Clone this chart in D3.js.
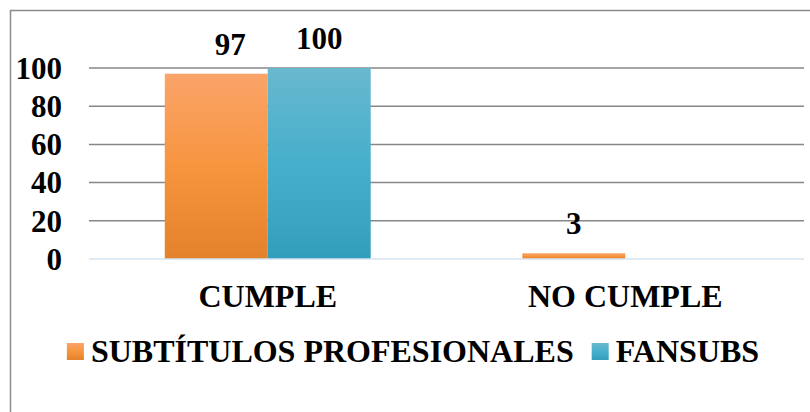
<!DOCTYPE html>
<html>
<head>
<meta charset="utf-8">
<script src="https://cdn.jsdelivr.net/npm/d3@7"></script>
<style>
  body { margin: 0; background: #fff; }
</style>
</head>
<body>
<div id="chart"></div>
<script>
// data
var categories = ["CUMPLE", "NO CUMPLE"];
var seriesNames = ["SUBTÍTULOS PROFESIONALES", "FANSUBS"];
var profesionales = [97, 3];
var fansubs = [100, 0];
var yTicks = [0, 20, 40, 60, 80, 100];

var width = 810, height = 412;

var svg = d3.select("#chart")
    .append("svg")
    .attr("width", width)
    .attr("height", height);

// gradients like the office style fill
var defs = svg.append("defs");
var grads = [
    {id: "gOrange", stops: ["#faa46a", "#f7953f", "#e4822c"]},
    {id: "gBlue", stops: ["#69b8cf", "#46afcc", "#339ebc"]}
];
grads.forEach(function(g){
    var lg = defs.append("linearGradient")
        .attr("id", g.id)
        .attr("x1", 0).attr("y1", 0)
        .attr("x2", 0).attr("y2", 1);
    g.stops.forEach(function(c, i){
        lg.append("stop").attr("offset", (i*50)+"%").attr("stop-color", c);
    });
});
var fills = ["url(#gOrange)", "url(#gBlue)"];

// outer frame
svg.append("rect")
    .attr("x", 10.5)
    .attr("y", 10.5)
    .attr("width", 820)
    .attr("height", 420)
    .attr("fill", "none")
    .attr("stroke", "#8c8c8c")
    .attr("stroke-width", 1.5);

var x0 = d3.scaleBand()
    .domain(categories)
    .range([89, 804])
    .paddingInner(0.424)
    .paddingOuter(0.212);

var x1 = d3.scaleBand()
    .domain(seriesNames)
    .range([0, x0.bandwidth()]);

var y = d3.scaleLinear()
    .domain([0, 100])
    .range([259, 68]);

// every text: bold Times-like face
function serif(sel, size){
    sel.style("font-family", "'Liberation Serif'")
        .style("font-weight", "bold")
        .style("font-size", size + "px")
        .attr("fill", "#000");
}

// gridlines
svg.append("g")
    .selectAll("line")
    .data(yTicks.filter(function(d){ return d > 0; }))
    .enter().append("line")
    .attr("x1", 89)
    .attr("x2", 804)
    .attr("y1", function(d){ return y(d); })
    .attr("y2", function(d){ return y(d); })
    .attr("stroke", "#878787")
    .attr("stroke-width", 1.5);

// y tick labels
svg.append("g")
    .selectAll("text")
    .data(yTicks)
    .enter().append("text")
    .attr("x", 62)
    .attr("y", function(d){ return y(d); })
    .attr("dy", "0.35em")
    .attr("text-anchor", "end")
    .call(serif, 31)
    .text(function(d){ return d; });

// bars
var rows = categories.map(function(c, i){
    return {cat: c, values: [profesionales[i], fansubs[i]]};
});

var groups = svg.append("g")
    .selectAll("g")
    .data(rows)
    .enter().append("g")
    .attr("transform", function(d){ return "translate(" + x0(d.cat) + ",0)"; });

groups.selectAll("rect")
    .data(function(d){ return d.values.map(function(v, j){ return {s: seriesNames[j], v: v, j: j}; }); })
    .enter().append("rect")
    .attr("x", function(d){ return x1(d.s); })
    .attr("width", x1.bandwidth())
    .attr("y", function(d){ return y(d.v); })
    .attr("height", function(d){ return y(0) - y(d.v); })
    .attr("fill", function(d){ return fills[d.j]; });

// value labels (zero values have none)
groups.selectAll("text")
    .data(function(d, i){
        return d.values.map(function(v, j){ return {s: seriesNames[j], v: v, j: j, c: i}; })
            .filter(function(e){ return e.v > 0; });
    })
    .enter().append("text")
    .attr("x", function(d){
        // the 97 label sits a bit to the right in the original
        var shift = (d.c == 0 && d.j == 0) ? 14 : 0;
        return x1(d.s) + x1.bandwidth()/2 + shift;
    })
    .attr("y", function(d){ return y(d.v) - 19; })
    .attr("text-anchor", "middle")
    .call(serif, 31)
    .text(function(d){ return d.v; });

// baseline
svg.append("line")
    .attr("x1", 89)
    .attr("x2", 804)
    .attr("y1", y(0))
    .attr("y2", y(0))
    .attr("stroke", "#d6e3ef")
    .attr("stroke-width", 1.5);

// category labels
svg.append("g")
    .selectAll("text")
    .data(categories)
    .enter().append("text")
    .attr("x", function(d){ return x0(d) + x0.bandwidth()/2; })
    .attr("y", 307)
    .attr("text-anchor", "middle")
    .call(serif, 32)
    .text(function(d){ return d; });

// legend
var legend = svg.append("g");
var lx = 0;
seriesNames.forEach(function(name, i){
    var item = legend.append("g").attr("transform", "translate(" + lx + ",0)");
    item.append("rect")
        .attr("x", 0)
        .attr("y", -19)
        .attr("width", 17)
        .attr("height", 17)
        .attr("fill", fills[i]);
    var t = item.append("text")
        .attr("x", 24)
        .attr("y", 0)
        .call(serif, 32)
        .text(name);
    lx += 24 + t.node().getComputedTextLength() + 18;
});
var legendWidth = lx - 18;
legend.attr("transform", "translate(" + (413 - legendWidth/2) + ",362)");
</script>
</body>
</html>
